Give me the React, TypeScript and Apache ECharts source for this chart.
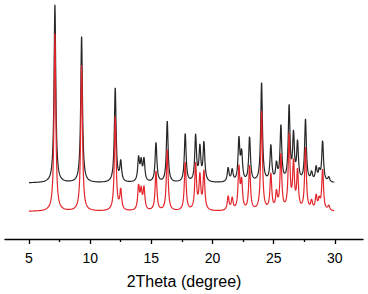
import React, { useEffect, useRef } from "react";
import * as echarts from "echarts";

// Peak positions (2Theta, degree) and peak heights (arbitrary intensity units)
const peakPositions = [
  7.12, 9.3, 12.05, 12.5, 13.96, 14.17, 14.4, 15.38, 16.3, 17.77, 18.62, 18.97,
  19.3, 21.28, 21.61, 22.16, 22.38, 23.03, 24.01, 24.77, 25.23, 25.59, 26.26,
  26.62, 26.95, 27.6, 28.1, 28.47, 28.72, 29.0, 29.5,
];
const blackHeights = [
  178, 146, 94, 20, 24, 19, 22, 40, 61, 49, 46, 34, 39, 14, 12, 42, 28, 45, 99,
  36, 17, 55, 74, 46, 38, 62, 9, 14, 10, 41, 5,
];
const redHeights = [
  178, 146, 94, 20, 24, 19, 22, 40, 61, 49, 46, 34, 39, 14, 12, 42, 28, 45, 99,
  36, 17, 55, 74, 46, 38, 62, 9, 14, 10, 41, 5,
];
const peakHalfWidth = 0.085;
const blackOffset = 28.5;
const redOffset = 0;
const scanStart = 5;
const scanEnd = 30;
const scanStep = 0.01;

const majorTicks = [5, 10, 15, 20, 25, 30];
const minorTicks = [7.5, 12.5, 17.5, 22.5, 27.5];
const axisTitle = "2Theta (degree)";

function pattern(heights: number[], offset: number): number[][] {
  const pts: number[][] = [];
  const n = Math.round((scanEnd - scanStart) / scanStep);
  for (let i = 0; i <= n; i++) {
    const x = scanStart + i * scanStep;
    let y = offset;
    for (let k = 0; k < peakPositions.length; k++) {
      const d = (x - peakPositions[k]) / peakHalfWidth;
      y += heights[k] / (1 + d * d);
    }
    pts.push([x, y]);
  }
  return pts;
}

export default function App() {
  const ref = useRef<HTMLDivElement>(null);
  useEffect(() => {
    if (!ref.current) return;
    const chart = echarts.init(ref.current, null, { renderer: "svg" });
    const xMin = 3.04;
    const xMax = 32.3;
    chart.setOption({
      animation: false,
      backgroundColor: "#ffffff",
      grid: {
        left: 5,
        right: 5,
        top: 0,
        bottom: 55,
        containLabel: false,
        outerBoundsMode: "none",
      },
      xAxis: [
        {
          type: "value",
          min: xMin,
          max: xMax,
          position: "bottom",
          name: axisTitle,
          nameLocation: "middle",
          nameGap: 34,
          nameTextStyle: {
            fontFamily: "Liberation Sans, Arial, sans-serif",
            fontSize: 16,
            color: "#000",
          },
          axisLine: { show: true, onZero: false, lineStyle: { color: "#000", width: 1.3 } },
          axisTick: {
            show: true,
            inside: false,
            length: 5,
            customValues: majorTicks,
            lineStyle: { color: "#000", width: 1.3 },
          },
          axisLabel: {
            show: true,
            customValues: majorTicks,
            margin: 12,
            fontFamily: "Liberation Sans, Arial, sans-serif",
            fontSize: 14,
            color: "#000",
          },
          splitLine: { show: false },
        },
        {
          type: "value",
          min: xMin,
          max: xMax,
          position: "bottom",
          axisLine: { show: false, onZero: false },
          axisTick: {
            show: true,
            inside: false,
            length: 3,
            customValues: minorTicks,
            lineStyle: { color: "#000", width: 1.3 },
          },
          axisLabel: { show: false },
          splitLine: { show: false },
        },
      ],
      yAxis: {
        type: "value",
        min: -27.5,
        max: 211.5,
        show: false,
        splitLine: { show: false },
      },
      series: [
        {
          type: "line",
          xAxisIndex: 0,
          data: pattern(blackHeights, blackOffset),
          showSymbol: false,
          lineStyle: { color: "#262626", width: 1.2 },
          silent: true,
        },
        {
          type: "line",
          xAxisIndex: 0,
          data: pattern(redHeights, redOffset),
          showSymbol: false,
          lineStyle: { color: "#e3262b", width: 1.2 },
          silent: true,
        },
      ],
    });
    return () => chart.dispose();
  }, []);
  return (
    <div
      ref={ref}
      style={{ position: "absolute", left: 0, top: 0, width: 368, height: 294, background: "#fff" }}
    />
  );
}
